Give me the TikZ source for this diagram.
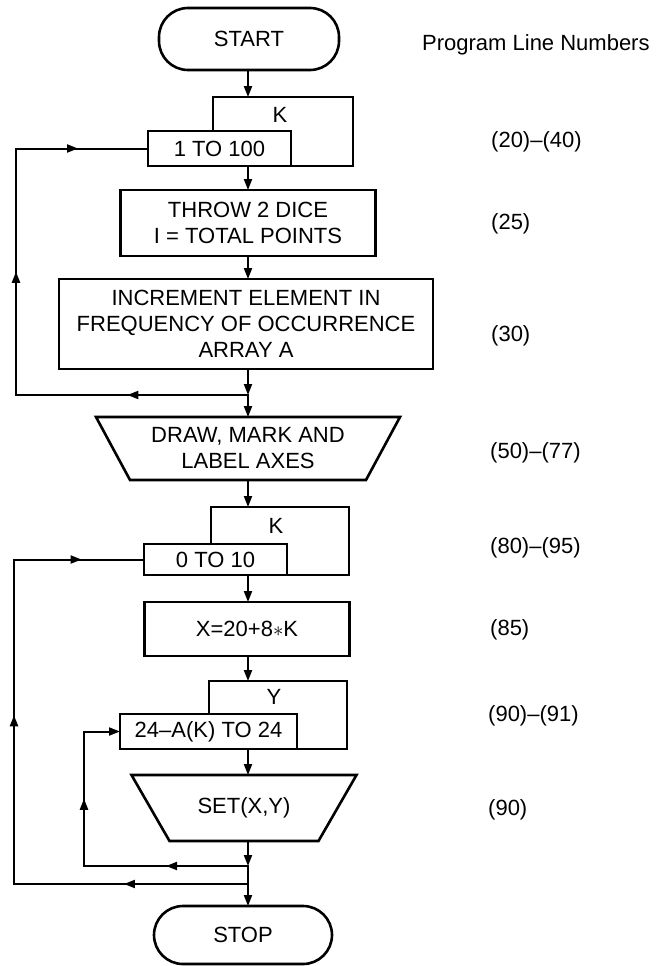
\documentclass[tikz,border=0pt]{standalone}
\usepackage{fontspec}
\setmainfont{Liberation Sans}
\usetikzlibrary{arrows.meta,calc,decorations.markings}
\begin{document}
\begin{tikzpicture}[x=1pt,y=-1pt,
  font=\fontsize{22}{26}\selectfont,
  boxsty/.style={draw,line width=2.6pt,fill=white,inner sep=0pt,outer sep=0pt,align=center},
  termsty/.style={boxsty,rounded corners=29pt},
  plainsty/.style={inner sep=0pt,outer sep=0pt,align=center},
  shapeline/.style={line width=2.6pt,line join=miter},
  conn/.style={line width=2pt,line cap=rect},
  arr/.style={line width=2pt,-{Triangle[length=11pt,width=8pt]}},
  midarr/.style={conn,postaction={decorate},decoration={markings,mark=at position #1 with {\arrow{Triangle[length=11pt,width=8pt]}}}},
  lnum/.style={anchor=west,inner sep=0pt}]
\useasboundingbox (0,0) rectangle (659,966);
\coordinate (sp) at (248,0);

% terminals and boxes
\node[termsty,minimum width=180pt,minimum height=62pt] (start) at (249,39) {START};

\node[boxsty,minimum width=140pt,minimum height=69pt] (l1o) at (283,131.5) {};
\node[boxsty,minimum width=143pt,minimum height=35pt] (l1i) at (219.5,148.5) {1 TO 100};
\node[plainsty] (k1) at (280,115) {K};

\node[boxsty,minimum width=255pt,minimum height=66pt] (throw) at (248,223) {THROW 2 DICE\\I = TOTAL POINTS};
\node[boxsty,minimum width=374pt,minimum height=90pt] (incr) at (246,324) {INCREMENT ELEMENT IN\\FREQUENCY OF OCCURRENCE\\ARRAY A};
\coordinate (m1) at (248,395);

\node[plainsty,minimum width=304pt,minimum height=63pt] (drawax) at (248,448.5) {DRAW, MARK AND\\LABEL AXES};
\draw[shapeline] (drawax.north west) -- (drawax.north east) -- ([xshift=-34pt]drawax.south east) -- ([xshift=34pt]drawax.south west) -- cycle;

\node[boxsty,minimum width=138pt,minimum height=68pt] (l2o) at (280,541) {};
\node[boxsty,minimum width=143pt,minimum height=31pt] (l2i) at (215.5,559.5) {0 TO 10};
\node[plainsty] (k2) at (276,526) {K};

\node[boxsty,minimum width=205pt,minimum height=54pt] (xbox) at (247,629) {X=20+8$\ast$K};

\node[boxsty,minimum width=138pt,minimum height=68pt] (l3o) at (278,715) {};
\node[boxsty,minimum width=177pt,minimum height=35pt] (l3i) at (208.5,731.5) {24--A(K) TO 24};
\node[plainsty] (y3) at (274,697) {Y};

\node[plainsty,minimum width=225pt,minimum height=66pt] (setax) at (244,808) {SET(X,Y)};
\draw[shapeline] (setax.north west) -- (setax.north east) -- ([xshift=-38pt]setax.south east) -- ([xshift=38pt]setax.south west) -- cycle;

\coordinate (m2) at (248,866);
\coordinate (m3) at (248,884);
\node[termsty,minimum width=178pt,minimum height=58pt] (stop) at (243,935) {STOP};

% main flow
\draw[arr] (start.south -| sp) -- (l1o.north -| sp);
\draw[arr] (l1o.south -| sp) -- (throw.north -| sp);
\draw[arr] (throw.south -| sp) -- (incr.north -| sp);
\draw[arr] (incr.south -| sp) -- (m1);
\draw[arr] (m1) -- (drawax.north -| sp);
\draw[arr] (drawax.south -| sp) -- (l2o.north -| sp);
\draw[arr] (l2o.south -| sp) -- (xbox.north -| sp);
\draw[arr] (xbox.south -| sp) -- (l3o.north -| sp);
\draw[arr] (l3o.south -| sp) -- (setax.north -| sp);
\draw[arr] (setax.south -| sp) -- (m2);
\draw[conn] (m2) -- (m3);
\draw[arr] (m3) -- (stop.north -| sp);

% loop 1
\coordinate (c1a) at (16,395);
\coordinate (c1b) at (c1a |- l1i.west);
\draw[midarr=0.52] (m1) -- (c1a);
\draw[midarr=0.5] (c1a) -- (c1b);
\draw[midarr=0.47] (c1b) -- (l1i.west);

% loop 3 (inner)
\coordinate (c3a) at (84,866);
\coordinate (c3b) at (c3a |- l3i.west);
\draw[midarr=0.5] (m2) -- (c3a);
\draw[midarr=0.5] (c3a) -- (c3b);
\draw[arr] (c3b) -- (l3i.west);

% loop 2 (outer)
\coordinate (c2a) at (14,884);
\coordinate (c2b) at (c2a |- l2i.west);
\draw[midarr=0.53] (m3) -- (c2a);
\draw[midarr=0.52] (c2a) -- (c2b);
\draw[midarr=0.52] (c2b) -- (l2i.west);

% program line numbers
\node[lnum] (plh) at (422,45) {Program Line Numbers};
\node[lnum] (n1) at (491,142) {(20)--(40)};
\node[lnum] (n2) at (491,224) {(25)};
\node[lnum] (n3) at (491,336) {(30)};
\node[lnum] (n4) at (490,453) {(50)--(77)};
\node[lnum] (n5) at (490,548) {(80)--(95)};
\node[lnum] (n6) at (490,630) {(85)};
\node[lnum] (n7) at (488,716) {(90)--(91)};
\node[lnum] (n8) at (488,810) {(90)};
\end{tikzpicture}
\end{document}
